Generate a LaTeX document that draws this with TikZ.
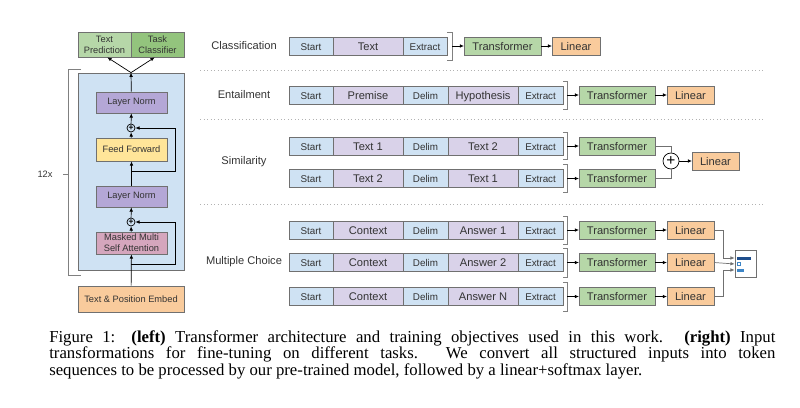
\documentclass[tikz,border=0pt]{standalone}
\usepackage{fontspec}
\setmainfont{Liberation Sans}
\newfontfamily\capfont{Liberation Serif}
\usetikzlibrary{arrows.meta, positioning, calc}

\definecolor{tokblue}{HTML}{CFE2F3}
\definecolor{tokpurple}{HTML}{D9D2E9}
\definecolor{normpurple}{HTML}{B4A7D6}
\definecolor{ffyellow}{HTML}{FFE599}
\definecolor{attpink}{HTML}{D5A6BD}
\definecolor{trgreen}{HTML}{B6D7A8}
\definecolor{clsgreen}{HTML}{93C47D}
\definecolor{linorange}{HTML}{F9CB9C}
\definecolor{boxline}{HTML}{707070}
\definecolor{txtgray}{HTML}{333333}
\definecolor{bardark}{HTML}{1F4E8C}
\definecolor{barmid}{HTML}{3D85C6}

\begin{document}
\begin{tikzpicture}[x=0.025cm, y=-0.025cm,
	tok/.style={draw=boxline, line width=0.5pt, outer sep=0pt, inner sep=0pt, minimum height=0.45cm, text height=1.5ex, text depth=0.35ex, text=txtgray},
	startbox/.style={tok, fill=tokblue, minimum width=1.1cm, font=\fontsize{7}{8}\selectfont},
	delimbox/.style={tok, fill=tokblue, minimum width=1.125cm, font=\fontsize{7}{8}\selectfont},
	extbox/.style={tok, fill=tokblue, minimum width=1.125cm, font=\fontsize{7}{8}\selectfont},
	textbox/.style={tok, fill=tokpurple, minimum width=1.75cm, font=\fontsize{7.9}{9}\selectfont},
	trbox/.style={tok, fill=trgreen, minimum width=1.9cm, font=\fontsize{7.9}{9}\selectfont},
	linbox/.style={tok, fill=linorange, minimum width=1.175cm, font=\fontsize{7.9}{9}\selectfont},
	task/.style={text=txtgray, font=\fontsize{7.9}{9}\selectfont},
	layer/.style={draw=boxline, line width=0.5pt, inner sep=0pt, text=txtgray, align=center, font=\fontsize{6.6}{7.8}\selectfont, minimum width=1.775cm},
	addop/.style={circle, draw=black, line width=0.5pt, inner sep=0pt, minimum size=0.2cm, font=\fontsize{6}{6}\selectfont\bfseries},
	arr/.style={-{Latex[length=3pt,width=2.6pt]}, line width=0.5pt},
	conn/.style={draw=boxline, line width=0.5pt},
	brk/.style={draw=gray, line width=0.6pt},
	sep/.style={draw=gray!60, dotted, line width=0.5pt}]

	\useasboundingbox (0,0) rectangle (800,407);

	% Transformer stack
	\node[draw=boxline, line width=0.5pt, fill=tokblue, minimum width=2.65cm, minimum height=4.925cm] (blk) at (131,171.5) {};
	\node[layer, fill=normpurple, minimum height=0.525cm] (ln2) at (131.5,102.5) {Layer Norm};
	\node[addop] (add2) at (131,128) {+};
	\node[layer, fill=ffyellow, minimum height=0.575cm] (ff) at (131.5,149.5) {Feed Forward};
	\node[layer, fill=normpurple, minimum height=0.525cm] (ln1) at (131.5,196.5) {Layer Norm};
	\node[addop] (add1) at (131,222) {+};
	\node[layer, fill=attpink, minimum height=0.55cm] (att) at (131.5,243) {Masked Multi\\Self Attention};
	\node[layer, fill=linorange, minimum width=2.65cm, minimum height=0.65cm] (emb) at (131,299) {Text \& Position Embed};
	\node[layer, fill=trgreen, minimum width=1.325cm, minimum height=0.625cm] (tp) at (104.5,44.5) {Text\\Prediction};
	\node[layer, fill=clsgreen, minimum width=1.325cm, minimum height=0.625cm] (tc) at (157.5,44.5) {Task\\Classifier};

	\draw[arr] (emb) -- (att);
	\draw[arr] (att) -- (add1);
	\draw[arr] (add1) -- (ln1);
	\draw[arr] (ln1) -- (ff);
	\draw[arr] (ff) -- (add2);
	\draw[arr] (add2) -- (ln2);
	\draw[arr] (ln2) -- (blk.north);
	\draw[arr] (blk.north) -- ([xshift=2]tp.south);
	\draw[arr] (blk.north) -- ([xshift=-2]tc.south);

	% Residual paths
	\coordinate (res1) at (131,264);
	\coordinate (res2) at (131,171);
	\draw[arr] (res1) -- ++(44,0) |- (add1);
	\draw[arr] (res2) -- ++(44,0) |- (add2);

	% Repeat bracket
	\node[text=txtgray, font=\fontsize{6.6}{8}\selectfont] (rep) at (45,174) {12x};
	\draw[brk] (81,69) -- (68,69) -- (68,275) -- (81,275);
	\draw[brk] (63,174) -- (68,174);

	% Separators
	\draw[sep] (200,70) -- (763,70);
	\draw[sep] (200,119) -- (763,119);
	\draw[sep] (200,204) -- (763,204);

	% Classification
	\node[task] (lab-c) at (244,46) {Classification};
	\node[startbox] (c-s) at (311,46) {Start};
	\node[textbox, right=0pt of c-s] (c-t) {Text};
	\node[extbox, minimum width=1.1cm, right=0pt of c-t] (c-e) {Extract};
	\coordinate (c-b) at ($(c-e.east)+(5,0)$);
	\draw[brk] ($(c-e.east)+(0,-14)$) -| ($(c-b)+(0,14)$) -- ($(c-e.east)+(0,14)$);
	\node[trbox, minimum width=1.925cm] (c-tr) at (502.5,46) {Transformer};
	\node[linbox, minimum width=1.2cm] (c-lin) at (576,46) {Linear};
	\draw[arr] (c-b) -- (c-tr);
	\draw[arr] (c-tr) -- (c-lin);

	% Entailment
	\node[task] (lab-e) at (244,95) {Entailment};
	\node[startbox] (e-s) at (311,95) {Start};
	\node[textbox, right=0pt of e-s] (e-t) {Premise};
	\node[delimbox, right=0pt of e-t] (e-d) {Delim};
	\node[textbox, right=0pt of e-d] (e-u) {Hypothesis};
	\node[extbox, right=0pt of e-u] (e-e) {Extract};
	\coordinate (e-b) at ($(e-e.east)+(4,0)$);
	\draw[brk] ($(e-e.east)+(0,-14)$) -| ($(e-b)+(0,14)$) -- ($(e-e.east)+(0,14)$);
	\node[trbox] (e-tr) at (617,95) {Transformer};
	\node[linbox] (e-lin) at (690.5,95) {Linear};
	\draw[arr] (e-b) -- (e-tr);
	\draw[arr] (e-tr) -- (e-lin);

	% Similarity
	\node[task] (lab-s) at (244,162) {Similarity};
	\node[startbox] (s1-s) at (311,146) {Start};
	\node[textbox, right=0pt of s1-s] (s1-t) {Text 1};
	\node[delimbox, right=0pt of s1-t] (s1-d) {Delim};
	\node[textbox, right=0pt of s1-d] (s1-u) {Text 2};
	\node[extbox, right=0pt of s1-u] (s1-e) {Extract};
	\node[startbox] (s2-s) at (311,178.5) {Start};
	\node[textbox, right=0pt of s2-s] (s2-t) {Text 2};
	\node[delimbox, right=0pt of s2-t] (s2-d) {Delim};
	\node[textbox, right=0pt of s2-d] (s2-u) {Text 1};
	\node[extbox, right=0pt of s2-u] (s2-e) {Extract};
	\coordinate (s1-b) at ($(s1-e.east)+(4,0)$);
	\coordinate (s2-b) at ($(s2-e.east)+(4,0)$);
	\draw[brk] ($(s1-e.east)+(0,-14)$) -| ($(s1-b)+(0,13)$) -- ($(s1-e.east)+(0,13)$);
	\draw[brk] ($(s2-e.east)+(0,-14)$) -| ($(s2-b)+(0,14)$) -- ($(s2-e.east)+(0,14)$);
	\node[trbox] (s1-tr) at (617,146) {Transformer};
	\node[trbox] (s2-tr) at (617,178.5) {Transformer};
	\node[addop, minimum size=0.4cm, font=\fontsize{11}{11}\selectfont] (s-add) at (671,161) {+};
	\node[linbox] (s-lin) at (715.5,161) {Linear};
	\draw[arr] (s1-b) -- (s1-tr);
	\draw[arr] (s2-b) -- (s2-tr);
	\draw[conn] (s1-tr) -| (s-add);
	\draw[conn] (s2-tr) -| (s-add);
	\draw[arr] (s-add) -- (s-lin);

	% Multiple Choice
	\node[task] (lab-m) at (244,262) {Multiple Choice};
	\node[startbox] (m1-s) at (311,230) {Start};
	\node[textbox, right=0pt of m1-s] (m1-t) {Context};
	\node[delimbox, right=0pt of m1-t] (m1-d) {Delim};
	\node[textbox, right=0pt of m1-d] (m1-u) {Answer 1};
	\node[extbox, right=0pt of m1-u] (m1-e) {Extract};
	\node[startbox] (m2-s) at (311,262.5) {Start};
	\node[textbox, right=0pt of m2-s] (m2-t) {Context};
	\node[delimbox, right=0pt of m2-t] (m2-d) {Delim};
	\node[textbox, right=0pt of m2-d] (m2-u) {Answer 2};
	\node[extbox, right=0pt of m2-u] (m2-e) {Extract};
	\node[startbox] (m3-s) at (311,296.5) {Start};
	\node[textbox, right=0pt of m3-s] (m3-t) {Context};
	\node[delimbox, right=0pt of m3-t] (m3-d) {Delim};
	\node[textbox, right=0pt of m3-d] (m3-u) {Answer N};
	\node[extbox, right=0pt of m3-u] (m3-e) {Extract};
	\coordinate (m1-b) at ($(m1-e.east)+(4,0)$);
	\coordinate (m2-b) at ($(m2-e.east)+(4,0)$);
	\coordinate (m3-b) at ($(m3-e.east)+(4,0)$);
	\draw[brk] ($(m1-e.east)+(0,-14)$) -| ($(m1-b)+(0,14)$) -- ($(m1-e.east)+(0,14)$);
	\draw[brk] ($(m2-e.east)+(0,-14)$) -| ($(m2-b)+(0,15)$) -- ($(m2-e.east)+(0,15)$);
	\draw[brk] ($(m3-e.east)+(0,-14)$) -| ($(m3-b)+(0,15)$) -- ($(m3-e.east)+(0,15)$);
	\node[trbox] (m1-tr) at (617,230) {Transformer};
	\node[trbox] (m2-tr) at (617,262.5) {Transformer};
	\node[trbox] (m3-tr) at (617,296.5) {Transformer};
	\node[linbox] (m1-lin) at (690.5,230) {Linear};
	\node[linbox] (m2-lin) at (690.5,262.5) {Linear};
	\node[linbox] (m3-lin) at (690.5,296.5) {Linear};
	\draw[arr] (m1-b) -- (m1-tr);
	\draw[arr] (m2-b) -- (m2-tr);
	\draw[arr] (m3-b) -- (m3-tr);
	\draw[arr] (m1-tr) -- (m1-lin);
	\draw[arr] (m2-tr) -- (m2-lin);
	\draw[arr] (m3-tr) -- (m3-lin);

	% Softmax output
	\node[draw=boxline, line width=0.5pt, fill=white, minimum width=0.525cm, minimum height=0.675cm] (soft) at (745.5,263.5) {};
	\fill[bardark] (737,256.5) rectangle (751,259.5);
	\draw[barmid, line width=0.6pt] (737,262.5) rectangle (740,265.5);
	\fill[barmid] (737,268.5) rectangle (744,271.5);
	\draw[conn, arr] (m1-lin.east) -- ++(9,0) |- ($(soft.west)+(0,-5.5)$);
	\draw[conn, arr] (m2-lin.east) -- ($(soft.west)+(0,0.5)$);
	\draw[conn, arr] (m3-lin.east) -- ++(9,0) |- ($(soft.west)+(0,6.5)$);

	% Caption
	\node[anchor=base west, text width=18.15cm, inner sep=0pt, align=justify, font=\capfont\fontsize{11.9}{11.8}\selectfont] (cap) at (49,342) {\hyphenpenalty=10000 Figure 1: \textbf{(left)} Transformer architecture and training objectives used in this work. \textbf{(right)} Input\linebreak transformations for fine-tuning on different tasks. We convert all structured inputs into token\linebreak sequences to be processed by our pre-trained model, followed by a linear+softmax layer.};
\end{tikzpicture}
\end{document}
